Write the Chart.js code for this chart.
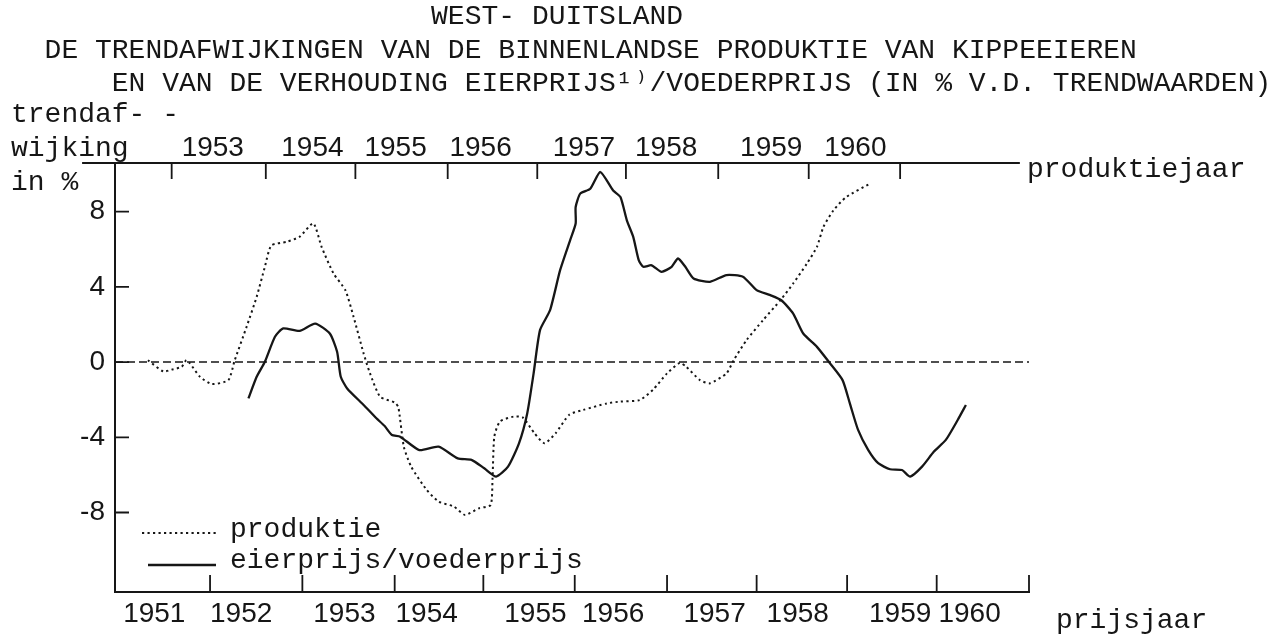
<!DOCTYPE html>
<html>
<head>
<meta charset="utf-8">
<title>West-Duitsland: trendafwijkingen produktie en eierprijs/voederprijs</title>
<script src="https://cdn.jsdelivr.net/npm/chart.js@4.4.1/dist/chart.umd.min.js"></script>
<style>
  html, body { margin: 0; padding: 0; background: #fff; }
  #wrap { width: 1275px; height: 639px; }
</style>
</head>
<body>
<div id="wrap"><canvas id="chart" width="1275" height="639"></canvas></div>
<script>
// x unit = one interval between the "prijsjaar" ticks, 0 = left axis
const X_MIN = 0;
const X_MAX = 10;
const Y_MIN = -12.23;
const Y_MAX = 10.59;

// produktie (dotted)
const PROD_X = [0.36, 0.53, 0.62, 0.73, 0.78, 0.82, 0.93, 1.06, 1.24, 1.31,
    1.44, 1.55, 1.64, 1.71, 1.88, 2.02, 2.17, 2.26, 2.39, 2.52,
    2.61, 2.72, 2.79, 2.90, 3.06, 3.10, 3.16, 3.24, 3.41, 3.54,
    3.71, 3.83, 3.98, 4.11, 4.13, 4.15, 4.21, 4.36, 4.46, 4.59,
    4.70, 4.82, 4.97, 5.12, 5.38, 5.53, 5.74, 5.89, 6.04, 6.18,
    6.25, 6.40, 6.51, 6.69, 6.77, 6.91, 7.09, 7.28, 7.42, 7.57,
    7.68, 7.75, 7.86, 8.00, 8.26];
const PROD_Y = [0.1, -0.5, -0.4, -0.25, 0.1, -0.07, -0.78, -1.17, -0.96, 0.1,
    1.88, 3.47, 5.07, 6.2, 6.4, 6.67, 7.38, 6.13, 4.72, 3.83,
    2.41, 0.46, -0.6, -1.84, -2.15, -2.4, -4.5, -5.56, -6.8, -7.42,
    -7.69, -8.13, -7.78, -7.6, -6.27, -3.97, -3.17, -2.9, -2.94, -3.79,
    -4.32, -3.79, -2.8, -2.55, -2.2, -2.1, -2.02, -1.45, -0.6, -0.04,
    -0.25, -0.96, -1.13, -0.6, 0.11, 1.17, 2.23, 3.29, 4.18, 5.24,
    6.13, 7.18, 8.07, 8.78, 9.49];

// eierprijs/voederprijs (solid)
const PRICE_X = [1.46, 1.55, 1.64, 1.75, 1.84, 2.02, 2.19, 2.35, 2.43, 2.47,
    2.54, 2.72, 2.86, 2.95, 3.03, 3.12, 3.33, 3.54, 3.75, 3.90,
    4.04, 4.17, 4.30, 4.42, 4.51, 4.58, 4.65, 4.76, 4.87, 4.98,
    5.04, 5.04, 5.09, 5.20, 5.31, 5.45, 5.53, 5.60, 5.67, 5.73,
    5.78, 5.87, 5.98, 6.09, 6.16, 6.24, 6.33, 6.51, 6.69, 6.87,
    7.02, 7.17, 7.29, 7.42, 7.53, 7.68, 7.82, 7.96, 8.04, 8.13,
    8.24, 8.35, 8.48, 8.61, 8.70, 8.83, 8.96, 9.09, 9.22, 9.31];
const PRICE_Y = [-1.93, -0.78, 0.02, 1.35, 1.79, 1.66, 2.05, 1.52, 0.55, -0.78,
    -1.4, -2.28, -2.99, -3.4, -3.88, -3.97, -4.68, -4.5, -5.12, -5.2,
    -5.65, -6.09, -5.56, -4.32, -2.73, -0.6, 1.7, 2.76, 4.89, 6.49,
    7.37, 8.25, 8.96, 9.22, 10.11, 9.13, 8.78, 7.54, 6.66, 5.42,
    5.07, 5.15, 4.8, 5.07, 5.51, 5.07, 4.45, 4.27, 4.63, 4.54,
    3.83, 3.56, 3.29, 2.58, 1.52, 0.81, -0.05, -0.96, -2.2, -3.61,
    -4.67, -5.38, -5.70, -5.74, -6.09, -5.56, -4.76, -4.14, -3.08, -2.28];

// prijsjaar axis (bottom)
const BOTTOM_LABELS = ['1951', '1952', '1953', '1954', '1955', '1956', '1957', '1958', '1959', '1960'];
const BOTTOM_LABEL_POS = [0.43, 1.38, 2.51, 3.41, 4.60, 5.45, 6.56, 7.47, 8.59, 9.35];
const BOTTOM_TICK_POS = [1.04, 2.05, 3.06, 4.03, 5.03, 6.04, 7.02, 8.01, 8.99, 10];

// produktiejaar axis (top)
const TOP_LABELS = ['1953', '1954', '1955', '1956', '1957', '1958', '1959', '1960'];
const TOP_LABEL_POS = [1.07, 2.16, 3.07, 4.00, 5.13, 6.03, 7.18, 8.10];
const TOP_TICK_POS = [0.62, 1.65, 2.63, 3.64, 4.62, 5.59, 6.60, 7.59, 8.59];
const TOP_LINE_FROM = -0.36;
const TOP_LINE_TO = 9.90;

const Y_TICKS = [-8, -4, 0, 4, 8];

const TITLE_LINES = [
    ' '.repeat(25) + 'WEST- DUITSLAND',
    '  DE TRENDAFWIJKINGEN VAN DE BINNENLANDSE PRODUKTIE VAN KIPPEEIEREN',
    '      EN VAN DE VERHOUDING EIERPRIJS\u00b9\u207e/VOEDERPRIJS (IN % V.D. TRENDWAARDEN)'
];

const INK = '#161616';
const TYPE_FONT = '"Liberation Mono", "DejaVu Sans Mono", monospace';
const DIGIT_FONT = '"Liberation Sans", "DejaVu Sans", sans-serif';

// ticks pointing inwards, top line, zero line, loose texts and the legend
const framePlugin = {
    id: 'frame',
    afterDraw(chart) {
        const { ctx, chartArea: a, scales: { x, y } } = chart;
        ctx.save();
        ctx.strokeStyle = INK;
        ctx.fillStyle = INK;
        ctx.lineCap = 'butt';

        ctx.lineWidth = 2;
        ctx.beginPath();
        ctx.moveTo(x.getPixelForValue(TOP_LINE_FROM), a.top);
        ctx.lineTo(x.getPixelForValue(TOP_LINE_TO), a.top);
        ctx.stroke();

        ctx.lineWidth = 1.8;
        ctx.beginPath();
        BOTTOM_TICK_POS.forEach(v => {
            const px = x.getPixelForValue(v);
            ctx.moveTo(px, a.bottom);
            ctx.lineTo(px, a.bottom - 17);
        });
        TOP_TICK_POS.forEach(v => {
            const px = x.getPixelForValue(v);
            ctx.moveTo(px, a.top);
            ctx.lineTo(px, a.top + 16);
        });
        Y_TICKS.forEach(v => {
            const py = y.getPixelForValue(v);
            ctx.moveTo(a.left, py);
            ctx.lineTo(a.left + 14, py);
        });
        ctx.stroke();

        // zero line
        ctx.lineWidth = 1.5;
        ctx.setLineDash([8, 4]);
        ctx.beginPath();
        ctx.moveTo(a.left, y.getPixelForValue(0));
        ctx.lineTo(a.right, y.getPixelForValue(0));
        ctx.stroke();
        ctx.setLineDash([]);

        ctx.font = '28px ' + TYPE_FONT;
        ctx.textAlign = 'left';
        ctx.textBaseline = 'alphabetic';
        ctx.fillText('trendaf- -', 11, 122);
        ctx.fillText('wijking', 11, 156);
        ctx.fillText('in %', 11, 190);
        ctx.fillText('produktiejaar', 1027, 177);
        ctx.fillText('prijsjaar', 1056, 628);

        // legend
        const ds = chart.data.datasets;
        ctx.lineWidth = ds[0].borderWidth;
        ctx.setLineDash(ds[0].borderDash);
        ctx.beginPath();
        ctx.moveTo(142, 533);
        ctx.lineTo(216, 533);
        ctx.stroke();
        ctx.setLineDash([]);
        ctx.lineWidth = ds[1].borderWidth;
        ctx.beginPath();
        ctx.moveTo(148, 565);
        ctx.lineTo(216, 565);
        ctx.stroke();
        ctx.fillText(ds[0].label, 230, 537);
        ctx.fillText(ds[1].label, 230, 568);

        ctx.restore();
    }
};

const tickFont = { family: DIGIT_FONT, size: 28, lineHeight: 1 };

new Chart(document.getElementById('chart'), {
    type: 'scatter',
    data: {
        datasets: [{
            label: 'produktie',
            data: PROD_X.map((v, i) => ({ x: v, y: PROD_Y[i] })),
            showLine: true,
            borderColor: INK,
            borderWidth: 2,
            borderDash: [2.2, 3.3],
            pointRadius: 0,
            tension: 0.2,
            xAxisID: 'x',
            yAxisID: 'y'
        }, {
            label: 'eierprijs/voederprijs',
            data: PRICE_X.map((v, i) => ({ x: v, y: PRICE_Y[i] })),
            showLine: true,
            borderColor: INK,
            borderWidth: 2.3,
            pointRadius: 0,
            tension: 0.2,
            xAxisID: 'x',
            yAxisID: 'y'
        }]
    },
    options: {
        responsive: false,
        devicePixelRatio: 1,
        animation: false,
        events: [],
        layout: { padding: { left: 11, right: 0, top: 0, bottom: 0 } },
        scales: {
            x: {
                type: 'linear', position: 'bottom', min: X_MIN, max: X_MAX,
                afterBuildTicks: s => { s.ticks = BOTTOM_LABEL_POS.map(v => ({ value: v })); },
                afterFit: s => { s.height = 47; },
                grid: { display: false, drawTicks: false },
                border: { display: true, width: 2, color: INK },
                ticks: {
                    callback: (v, i) => BOTTOM_LABELS[i],
                    autoSkip: false, maxRotation: 0, padding: 8,
                    color: INK, font: tickFont
                }
            },
            x2: {
                type: 'linear', position: 'top', min: X_MIN, max: X_MAX,
                afterBuildTicks: s => { s.ticks = TOP_LABEL_POS.map(v => ({ value: v })); },
                afterFit: s => { s.height = 62.2; },
                grid: { display: false, drawTicks: false },
                border: { display: false },
                ticks: {
                    callback: (v, i) => TOP_LABELS[i],
                    autoSkip: false, maxRotation: 0, padding: 1,
                    color: INK, font: tickFont
                }
            },
            y: {
                type: 'linear', position: 'left', min: Y_MIN, max: Y_MAX,
                afterBuildTicks: s => { s.ticks = Y_TICKS.map(v => ({ value: v })); },
                afterFit: s => { s.width = 104; },
                grid: { display: false, drawTicks: false },
                border: { display: true, width: 2, color: INK },
                ticks: {
                    callback: v => String(v),
                    padding: 10, color: INK, font: tickFont
                }
            },
            yR: {
                type: 'linear', position: 'right', display: true,
                afterFit: s => { s.width = 246; },
                grid: { display: false, drawTicks: false },
                border: { display: false },
                ticks: { display: false }
            }
        },
        plugins: {
            legend: { display: false },
            tooltip: { enabled: false },
            title: {
                display: true,
                text: TITLE_LINES,
                align: 'start',
                color: INK,
                font: { family: TYPE_FONT, size: 28, weight: 'normal', lineHeight: 1.2 },
                padding: 0
            }
        }
    },
    plugins: [framePlugin]
});
</script>
</body>
</html>
